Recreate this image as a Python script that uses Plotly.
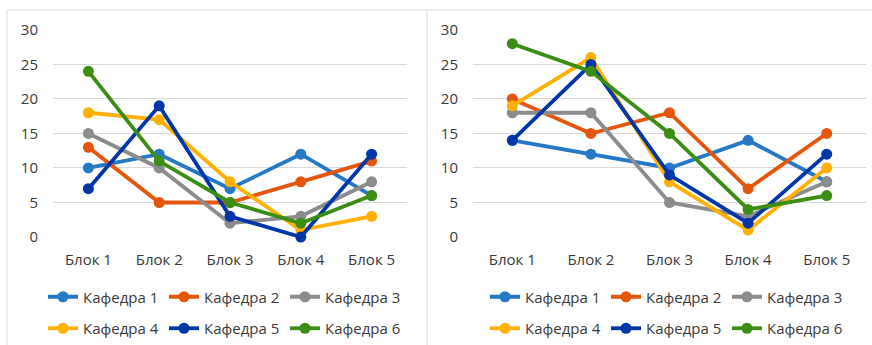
import plotly.graph_objects as go

# Data: scores by block for each department, two survey rounds
blocks = ["Блок 1", "Блок 2", "Блок 3", "Блок 4", "Блок 5"]
departments = ["Кафедра 1", "Кафедра 2", "Кафедра 3", "Кафедра 4", "Кафедра 5", "Кафедра 6"]

left_k1 = [10, 12, 7, 12, 6]
left_k2 = [13, 5, 5, 8, 11]
left_k3 = [15, 10, 2, 3, 8]
left_k4 = [18, 17, 8, 1, 3]
left_k5 = [7, 19, 3, 0, 12]
left_k6 = [24, 11, 5, 2, 6]

right_k1 = [14, 12, 10, 14, 8]
right_k2 = [20, 15, 18, 7, 15]
right_k3 = [18, 18, 5, 3, 8]
right_k4 = [19, 26, 8, 1, 10]
right_k5 = [14, 25, 9, 2, 12]
right_k6 = [28, 24, 15, 4, 6]

y_ticks = [0, 5, 10, 15, 20, 25, 30]

colors = ["#2478C6", "#E5560C", "#8C8C8C", "#FFB000", "#0036A8", "#3C8D13"]

left_series = [left_k1, left_k2, left_k3, left_k4, left_k5, left_k6]
right_series = [right_k1, right_k2, right_k3, right_k4, right_k5, right_k6]

W, H = 872, 345
TEXT = "#3A3A3A"
GRID = "#D9D9D9"
FONT = "Open Sans"

fig = go.Figure()

for i, (name, vals) in enumerate(zip(departments, left_series)):
    fig.add_trace(go.Scatter(
        x=blocks, y=vals, name=name, mode="lines+markers",
        line=dict(color=colors[i], width=3.8),
        marker=dict(color=colors[i], size=11),
        xaxis="x", yaxis="y", cliponaxis=False,
        legend="legend" if i < 3 else "legend2",
    ))

for i, (name, vals) in enumerate(zip(departments, right_series)):
    fig.add_trace(go.Scatter(
        x=blocks, y=vals, name=name, mode="lines+markers",
        line=dict(color=colors[i], width=3.8),
        marker=dict(color=colors[i], size=11),
        xaxis="x2", yaxis="y2", cliponaxis=False,
        legend="legend3" if i < 3 else "legend4",
    ))

y_dom = [1 - 237.7 / H, 1 - 30 / H]

axis_common = dict(
    showline=False, zeroline=False, automargin=False,
    tickfont=dict(family=FONT, size=15, color=TEXT),
)
xaxis_common = dict(
    axis_common, type="category", range=[-0.5, 4.5], showgrid=False,
    ticks="", ticklabelstandoff=12,
)
yaxis_common = dict(
    axis_common, range=[0, 30], tickvals=y_ticks, showgrid=True,
    gridcolor=GRID, gridwidth=1, ticks="", ticklabelstandoff=14,
)

legend_common = dict(
    orientation="h", xanchor="left", yanchor="middle",
    entrywidth=76, entrywidthmode="pixels",
    font=dict(family=FONT, size=15, color=TEXT),
    bgcolor="rgba(0,0,0,0)", itemclick=False, itemdoubleclick=False,
    tracegroupgap=0,
)

fig.update_layout(
    width=W, height=H,
    margin=dict(l=0, r=0, t=0, b=0),
    paper_bgcolor="white", plot_bgcolor="white",
    showlegend=True,
    xaxis=dict(xaxis_common, domain=[53 / W, 407 / W], anchor="y"),
    yaxis=dict(yaxis_common, domain=y_dom, anchor="x"),
    xaxis2=dict(xaxis_common, domain=[473 / W, 866 / W], anchor="y2"),
    yaxis2=dict(yaxis_common, domain=y_dom, anchor="x2"),
    legend=dict(legend_common, x=43 / W, y=1 - 297 / H),
    legend2=dict(legend_common, x=43 / W, y=1 - 329 / H),
    legend3=dict(legend_common, x=485 / W, y=1 - 297 / H),
    legend4=dict(legend_common, x=485 / W, y=1 - 329 / H),
    shapes=[
        # frame around the left chart
        dict(type="rect", xref="paper", yref="paper",
             x0=7 / W, x1=427 / W, y0=-0.01, y1=1 - 10 / H,
             line=dict(color=GRID, width=1)),
        # top edge of the right chart frame
        dict(type="line", xref="paper", yref="paper",
             x0=427 / W, x1=1.0, y0=1 - 10 / H, y1=1 - 10 / H,
             line=dict(color=GRID, width=1)),
    ],
)

fig.write_html("out.html")
